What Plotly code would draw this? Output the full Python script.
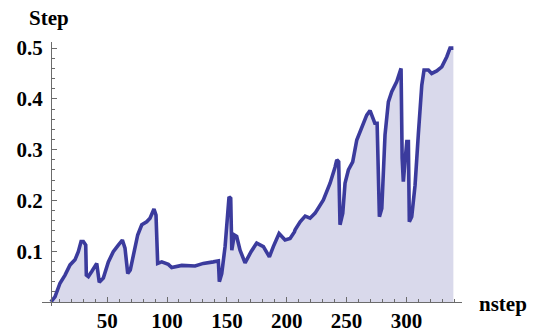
import plotly.graph_objects as go

# Step size per iteration
nstep = [3, 6.4, 10.6, 14.8, 19.0, 23.1, 25.9, 28.2, 30.1, 32.1, 32.6, 34.3, 37.1, 39.3, 41.3,
         43.4, 46.8, 51.0, 55.1, 59.3, 62.7, 64.9, 67.2, 69.3, 72.7, 75.5, 78.9, 83.0, 85.8,
         87.2, 89.1, 90.8, 92.2, 95.6, 101.1, 103.9, 112.3, 123.4, 130.3, 138.7, 142.9, 143.7,
         145.7, 148.5, 150.7, 151.8, 153.2, 154.1, 156.2, 158.2, 161.0, 165.2, 170.2, 174.9,
         180.5, 185.5, 188.8, 193.6, 198.6, 202.8, 206.4, 207.0, 211.2, 215.4, 219.5, 223.7,
         230.6, 236.2, 240.4, 241.8, 243.4, 244.5, 246.8, 248.7, 251.5, 255.1, 258.5, 262.7,
         266.8, 269.6, 271.7, 273.6, 275.5, 277.4, 279.4, 282.1, 284.9, 287.7, 291.9, 295.5,
         296.4, 297.4, 298.8, 300.3, 301.6, 302.4, 304.4, 307.2, 309.9, 312.8, 314.7, 318.3,
         321.1, 325.3, 329.5, 333.7, 336.4, 339.2]
step = [0.0, 0.010, 0.037, 0.053, 0.073, 0.083, 0.099, 0.119, 0.119, 0.112, 0.053, 0.050,
        0.060, 0.069, 0.076, 0.039, 0.047, 0.079, 0.099, 0.112, 0.122, 0.106, 0.056, 0.063,
        0.099, 0.132, 0.152, 0.158, 0.165, 0.175, 0.183, 0.171, 0.076, 0.079, 0.074, 0.068,
        0.072, 0.071, 0.076, 0.079, 0.081, 0.040, 0.056, 0.109, 0.168, 0.207, 0.204, 0.102,
        0.132, 0.129, 0.102, 0.077, 0.099, 0.116, 0.109, 0.089, 0.109, 0.135, 0.122, 0.125,
        0.138, 0.142, 0.158, 0.169, 0.165, 0.175, 0.201, 0.234, 0.266, 0.280, 0.276, 0.152,
        0.175, 0.234, 0.260, 0.276, 0.319, 0.345, 0.368, 0.377, 0.362, 0.352, 0.352, 0.168,
        0.184, 0.329, 0.394, 0.414, 0.434, 0.460, 0.283, 0.237, 0.277, 0.316, 0.316, 0.158,
        0.168, 0.230, 0.329, 0.427, 0.457, 0.457, 0.450, 0.455, 0.463, 0.483, 0.500, 0.500]

x_ticks = [50, 100, 150, 200, 250, 300]
y_ticks = [0.1, 0.2, 0.3, 0.4, 0.5]
x_minor = list(range(10, 350, 10))
y_minor = [round(0.02 * i, 2) for i in range(1, 26)]

LINE = "#3b3b9d"
FILL = "#d9d9eb"
AXIS = "#6b6b6b"
FONT = "Liberation Serif"

fig = go.Figure(go.Scatter(
    x=nstep, y=step, mode="lines",
    line=dict(color=LINE, width=3.6, shape="linear"),
    fill="tozeroy", fillcolor=FILL,
    hoverinfo="skip",
))

X_RANGE = [-4.43, 346.4]
Y_RANGE = [-0.0079, 0.512]

tick_font = dict(family=FONT, size=21, color="black", weight="bold")

fig.update_layout(
    width=535, height=334,
    margin=dict(l=42, r=73, t=42, b=28),
    paper_bgcolor="white", plot_bgcolor="white",
    showlegend=False,
    xaxis=dict(
        range=X_RANGE, showgrid=False, zeroline=False, automargin=False,
        showline=True, linecolor=AXIS, linewidth=1,
        anchor="free", position=(0 - Y_RANGE[0]) / (Y_RANGE[1] - Y_RANGE[0]),
        tickmode="array", tickvals=x_ticks,
        ticks="inside", ticklen=5, tickwidth=1, tickcolor=AXIS,
        tickfont=tick_font, ticklabelstandoff=0,
        minor=dict(tickmode="array", tickvals=x_minor, ticks="inside",
                   ticklen=3, tickwidth=1, tickcolor=AXIS, showgrid=False),
    ),
    yaxis=dict(
        range=Y_RANGE, showgrid=False, zeroline=False, automargin=False,
        showline=True, linecolor=AXIS, linewidth=1,
        anchor="free", position=(3 - X_RANGE[0]) / (X_RANGE[1] - X_RANGE[0]),
        tickmode="array", tickvals=y_ticks, tickformat=".1f",
        ticks="inside", ticklen=5, tickwidth=1, tickcolor=AXIS,
        tickfont=tick_font, ticklabelstandoff=4,
        minor=dict(tickmode="array", tickvals=y_minor, ticks="inside",
                   ticklen=3, tickwidth=1, tickcolor=AXIS, showgrid=False),
    ),
    annotations=[
        dict(text="<b>Step</b>", xref="paper", yref="paper", x=0.0167, y=1.091,
             xanchor="center", yanchor="middle", showarrow=False,
             font=dict(family=FONT, size=21, color="black")),
        dict(text="<b>nstep</b>", xref="paper", yref="paper", x=1.0976, y=0.008,
             xanchor="center", yanchor="middle", showarrow=False,
             font=dict(family=FONT, size=21, color="black")),
    ],
)

fig.write_html("out.html")
